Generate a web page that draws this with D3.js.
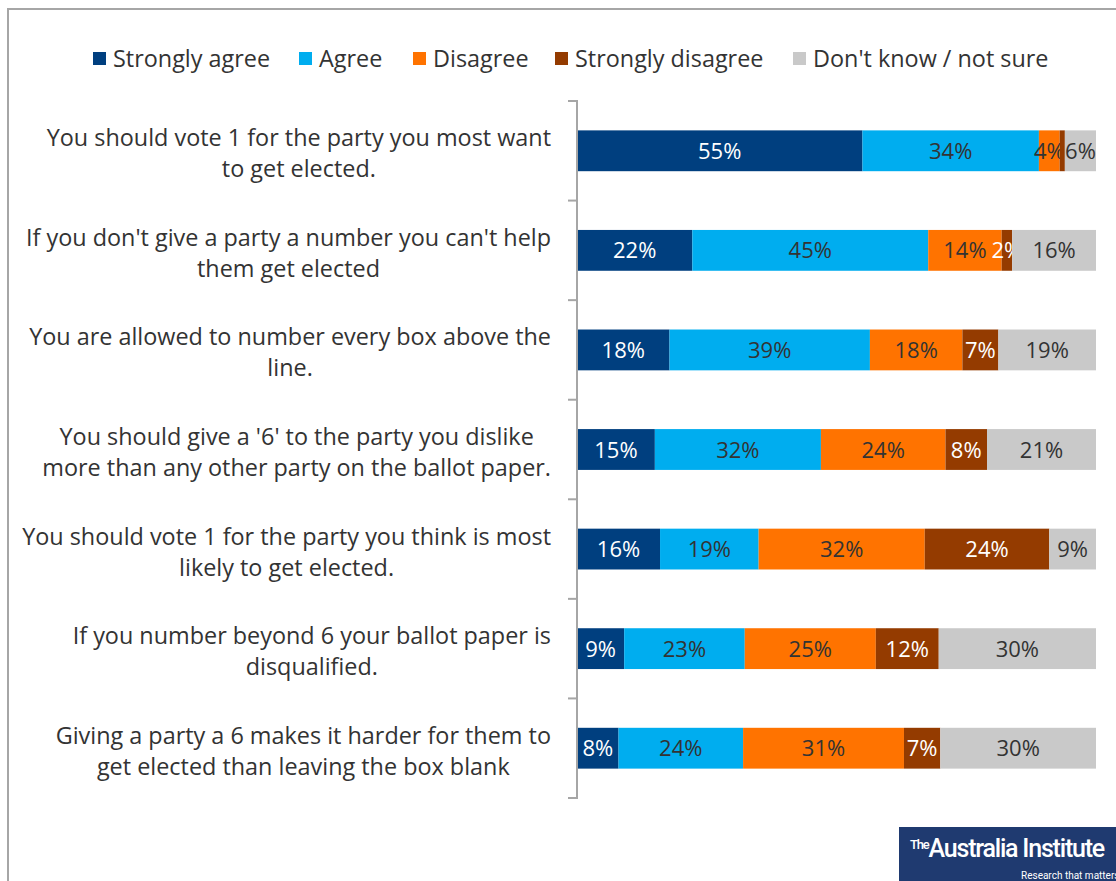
<!DOCTYPE html>
<html>
<head>
<meta charset="utf-8">
<script src="https://cdn.jsdelivr.net/npm/d3@7"></script>
<style>
  body { margin: 0; background: #fff; }
  svg text { font-family: "Open Sans", Lato, sans-serif; }
</style>
</head>
<body>
<div id="chart"></div>
<script>
// ==========================
// Data
// ==========================
const statements = [
    "You should vote 1 for the party you most want|to get elected.",
    "If you don't give a party a number you can't help|them get elected",
    "You are allowed to number every box above the|line.",
    "You should give a '6' to the party you dislike|more than any other party on the ballot paper.",
    "You should vote 1 for the party you think is most|likely to get elected.",
    "If you number beyond 6 your ballot paper is|disqualified.",
    "Giving a party a 6 makes it harder for them to|get elected than leaving the box blank"
];
const responses = ["Strongly agree", "Agree", "Disagree", "Strongly disagree", "Don't know / not sure"];

const stronglyAgree    = [55, 22, 18, 15, 16, 9, 8];
const agree            = [34, 45, 39, 32, 19, 23, 24];
const disagree         = [4, 14, 18, 24, 32, 25, 31];
const stronglyDisagree = [1, 2, 7, 8, 24, 12, 7];
const dontKnow         = [6, 16, 19, 21, 9, 30, 30];

const colors = ["#003f7f", "#00adef", "#ff7300", "#943b00", "#c9c9c9"];
const labelColors = ["#ffffff", "#333333", "#333333", "#ffffff", "#333333"];

// ==========================
// Canvas
// ==========================
const width = 1116;
const height = 881;

const svg = d3.select("#chart")
    .append("svg")
    .attr("width", width)
    .attr("height", height);

// Outer frame (right and bottom edges fall outside the picture)
svg.append("rect")
    .attr("x", 8)
    .attr("y", 9)
    .attr("width", width + 20)
    .attr("height", height + 20)
    .attr("fill", "none")
    .attr("stroke", "#a6a6a6")
    .attr("stroke-width", 2);

const rows = statements.map((s, i) => ({
    statement: s,
    "Strongly agree": stronglyAgree[i],
    "Agree": agree[i],
    "Disagree": disagree[i],
    "Strongly disagree": stronglyDisagree[i],
    "Don't know / not sure": dontKnow[i]
}));

// rows are normalised to full width (some sum to 99 or 101)
const stacked = d3.stack()
    .keys(responses)
    .offset(d3.stackOffsetExpand)(rows);

// ==========================
// Scales
// ==========================
const x = d3.scaleLinear().domain([0, 1]).range([577, 1096]);
const y = d3.scaleBand()
    .domain(statements)
    .range([101, 798])
    .paddingInner(0.59)
    .paddingOuter(0.295);

// ==========================
// Bars
// ==========================
const series = svg.selectAll(".series")
    .data(stacked)
    .enter()
    .append("g")
    .attr("class", "series")
    .attr("fill", (d, i) => colors[i]);

series.selectAll("rect")
    .data(d => d)
    .enter()
    .append("rect")
    .attr("x", d => x(d[0]))
    .attr("y", d => y(d.data.statement))
    .attr("width", d => x(d[1]) - x(d[0]))
    .attr("height", y.bandwidth());

series.each(function(s, si) {
    d3.select(this).selectAll("text")
        .data(s.filter(d => (x(d[1]) - x(d[0])) > 8))
        .enter()
        .append("text")
        .attr("x", d => (x(d[0]) + x(d[1])) / 2)
        .attr("y", d => y(d.data.statement) + y.bandwidth() / 2 + 8)
        .attr("text-anchor", "middle")
        .attr("font-size", 22)
        .attr("fill", labelColors[si])
        .text(d => d.data[s.key] + "%");
});

// ==========================
// Axis (category boundaries)
// ==========================
const axisColor = "#a6a6a6";
const bounds = statements.map(s => y(s) - y.step() * y.paddingInner() / 2);
bounds.push(y.range()[1]);

svg.append("line")
    .attr("x1", 577).attr("x2", 577)
    .attr("y1", y.range()[0]).attr("y2", y.range()[1])
    .attr("stroke", axisColor)
    .attr("stroke-width", 2);

svg.selectAll(".tick")
    .data(bounds)
    .enter()
    .append("line")
    .attr("class", "tick")
    .attr("x1", 568).attr("x2", 578)
    .attr("y1", d => d).attr("y2", d => d)
    .attr("stroke", axisColor)
    .attr("stroke-width", 2);

// ==========================
// Category labels (centred blocks, right edge at 551)
// ==========================
statements.forEach(s => {
    const lines = s.split("|");
    const g = svg.append("g");
    const cy = y(s) + y.bandwidth() / 2;
    const texts = lines.map((line, i) => g.append("text")
        .attr("y", cy + 11 + (i - (lines.length - 1) / 2) * 31)
        .attr("text-anchor", "middle")
        .attr("font-size", 23.4)
        .attr("fill", "#333")
        .text(line));
    const maxW = d3.max(texts, t => t.node().getComputedTextLength());
    texts.forEach(t => t.attr("x", 551 - maxW / 2));
});

// ==========================
// Legend
// ==========================
const legendX = [93, 299, 413, 555, 793];
const legend = svg.selectAll(".legend-item")
    .data(responses)
    .enter()
    .append("g")
    .attr("class", "legend-item")
    .attr("transform", (d, i) => `translate(${legendX[i]}, 52)`);

legend.append("rect")
    .attr("width", 13)
    .attr("height", 13)
    .attr("fill", (d, i) => colors[i]);

legend.append("text")
    .attr("x", 20)
    .attr("y", 15)
    .attr("font-size", 23.4)
    .attr("fill", "#333")
    .text(d => d);

// ==========================
// Logo
// ==========================
const logo = svg.append("g").attr("transform", "translate(899, 827)");
logo.append("rect")
    .attr("width", 220)
    .attr("height", 60)
    .attr("fill", "#1f3a70");
logo.append("text")
    .attr("x", 11).attr("y", 30)
    .attr("fill", "#fff")
    .attr("font-size", 25)
    .attr("font-weight", 500)
    .attr("letter-spacing", -1.2)
    .style("font-family", "Roboto, sans-serif")
    .html('<tspan font-size="13" dy="-8">The</tspan><tspan dy="8">Australia Institute</tspan>');
logo.append("text")
    .attr("x", 122).attr("y", 52)
    .attr("fill", "#fff")
    .attr("font-size", 10)
    .style("font-family", "Roboto, sans-serif")
    .text("Research that matters");
</script>
</body>
</html>
